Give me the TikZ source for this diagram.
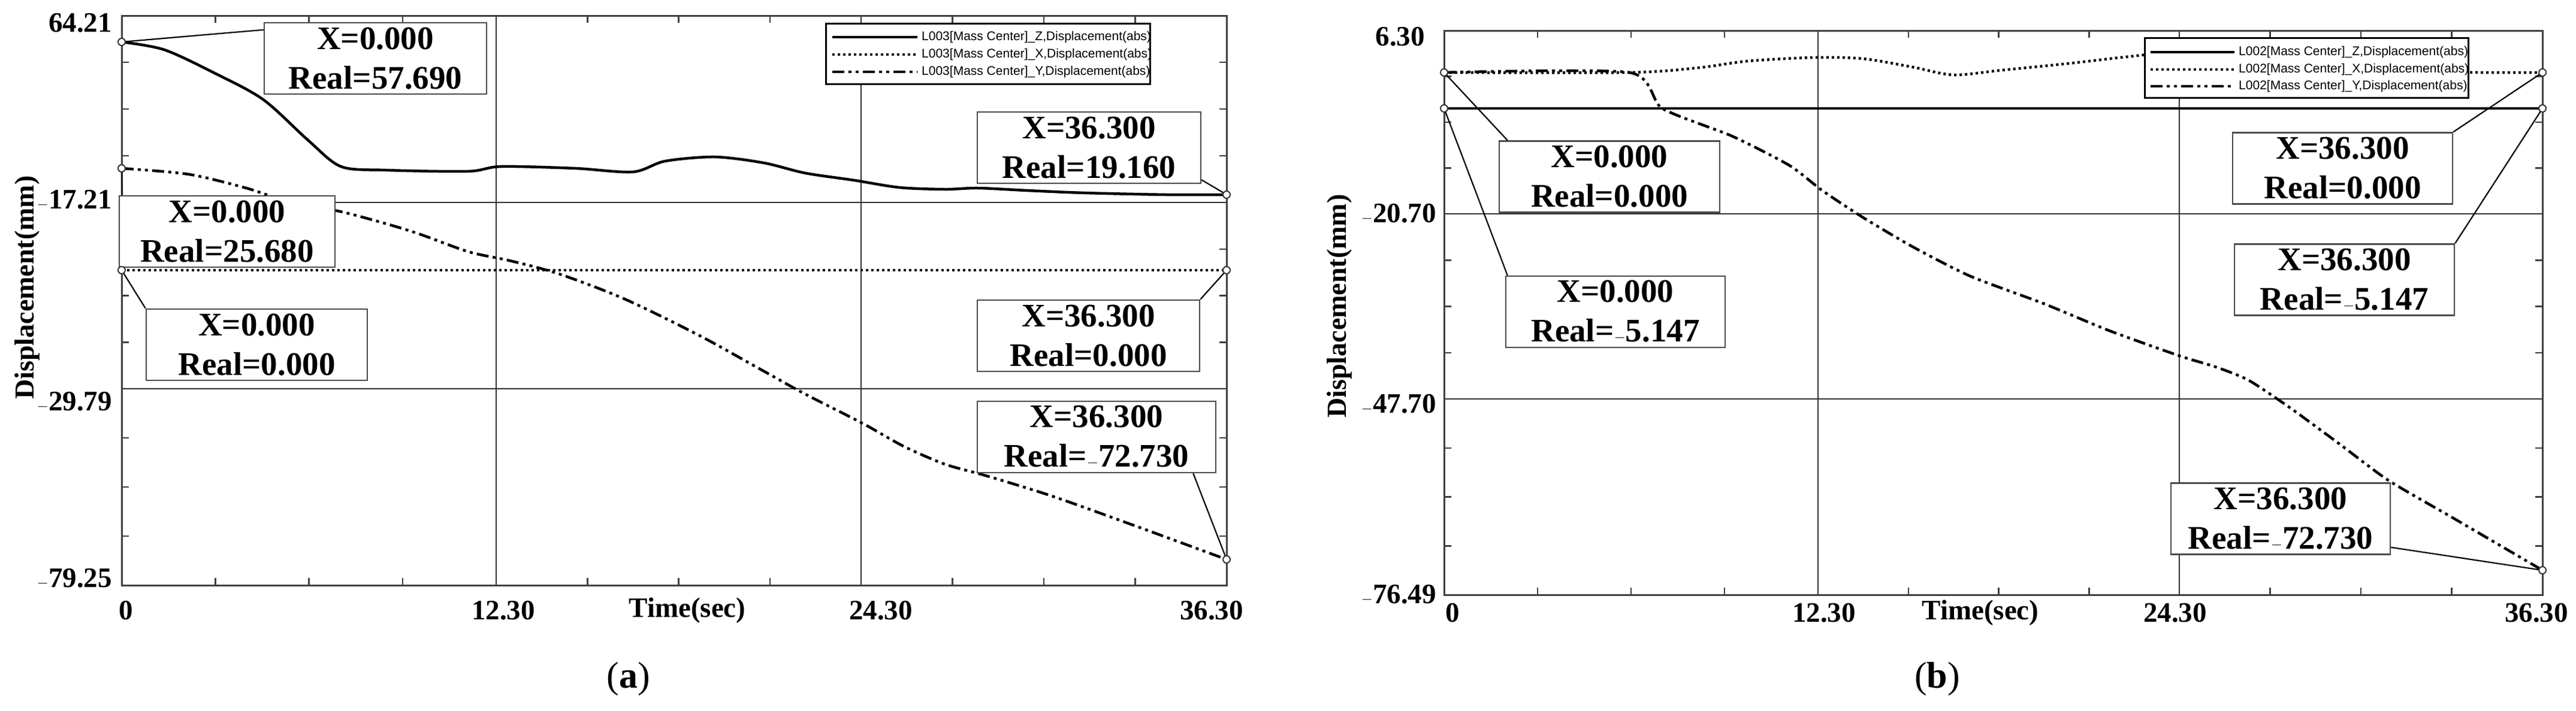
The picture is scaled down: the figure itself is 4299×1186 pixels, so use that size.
\documentclass[tikz,border=0pt]{standalone}
\usepackage{fontspec}
\setmainfont{Liberation Serif}
\newfontfamily\legfont{Liberation Sans}
\begin{document}
\begin{tikzpicture}[x=1pt,y=-1pt,
  frame/.style={draw=black!75,line width=3pt},
  grid/.style={draw=black!80,line width=2pt},
  tick/.style={draw=black!75,line width=2.5pt},
  zline/.style={line width=4.5pt},
  xline/.style={line width=4.5pt,dash pattern=on 4pt off 5pt},
  yline/.style={line width=4.5pt,dash pattern=on 20pt off 7pt on 5pt off 7pt on 5pt off 7pt},
  mk/.style={draw=black!80,line width=2pt,fill=white},
  lead/.style={draw=black,line width=2.2pt},
  ann/.style={draw=black!70,line width=2.5pt,fill=white,align=center,inner sep=0pt,
    minimum height=119pt,font=\fontsize{55}{66}\selectfont\bfseries},
  axl/.style={font=\fontsize{47}{50}\selectfont\bfseries,inner sep=0pt},
  leg/.style={draw=black,line width=3pt,fill=white},
  legt/.style={font=\legfont\fontsize{21}{24}\selectfont,anchor=west,inner sep=0pt}
]
\useasboundingbox (0,0) rectangle (4299,1186);
% ================= Panel (a)
\foreach \a/\b in {203/828,828/1437,1437/2047}{
  \foreach \k in {1,2,3}{
    \draw[tick] ({\a+(\b-\a)*\k/4},26) -- ++(0,12);
    \draw[tick] ({\a+(\b-\a)*\k/4},977) -- ++(0,-12);}}
\foreach \a/\b in {26/338,338/649,649/977}{
  \foreach \k in {1,2,3}{
    \draw[tick] (203,{\a+(\b-\a)*\k/4}) -- ++(12,0);
    \draw[tick] (2047,{\a+(\b-\a)*\k/4}) -- ++(-12,0);}}
\draw[grid] (828,26) -- (828,977) (1437,26) -- (1437,977)
            (203,338) -- (2047,338) (203,649) -- (2047,649);
\draw[frame] (203,26) rectangle (2047,977);
% curves
\draw[zline] plot[smooth,tension=0.5] coordinates {(203,70) (274,83) (356,121) (439,166) (514,234) (569,278) (644,284) (781,286) (836,278) (960,281) (1056,287) (1110,269) (1193,262) (1275,272) (1344,289) (1426,301) (1501,313) (1577,316) (1632,314) (1714,318) (1810,322) (1947,325) (2047,325)};
\draw[xline] (203,451) -- (2047,451);
\draw[yline] plot[smooth,tension=0.5] coordinates {(203,281) (315,291) (411,314) (480,336) (576,355) (686,386) (781,420) (850,435) (932,457) (1042,499) (1165,559) (1261,612) (1344,658) (1440,707) (1508,745) (1577,775) (1645,794) (1755,828) (1892,877) (2047,934)};
\coordinate (aZ0) at (203,70); \coordinate (aY0) at (203,281); \coordinate (aX0) at (203,451);
\coordinate (aZ1) at (2047,325); \coordinate (aX1) at (2047,451); \coordinate (aY1) at (2047,934);
% legend
\draw[leg] (1378,39) rectangle (1919,140);
\draw[zline] (1389,62) -- (1531,62);
\draw[xline] (1389,91) -- (1531,91);
\draw[yline] (1389,120) -- (1531,120);
\node[legt] (la1) at (1538,62) {L003[Mass Center]\_Z,Displacement(abs)};
\node[legt] (la2) at (1538,91) {L003[Mass Center]\_X,Displacement(abs)};
\node[legt] (la3) at (1538,120) {L003[Mass Center]\_Y,Displacement(abs)};
% annotations
\node[ann,minimum width=371pt] (a1) at (626.5,97.5) {X=0.000\\Real=57.690};
\node[ann,minimum width=360pt] (a2) at (379,386.5) {X=0.000\\Real=25.680};
\node[ann,minimum width=369pt] (a3) at (428.5,575.5) {X=0.000\\Real=0.000};
\node[ann,minimum width=373pt] (a4) at (1817.5,246.5) {X=36.300\\Real=19.160};
\node[ann,minimum width=371pt] (a5) at (1816.5,560.5) {X=36.300\\Real=0.000};
\node[ann,minimum width=398pt] (a6) at (1830,729.5) {X=36.300\\Real=$-$72.730};
\draw[lead] (aZ0) -- ([yshift=-13pt]a1.north west);
\draw[lead] (aY0) -- ([xshift=6pt]a2.north west);
\draw[lead] (aX0) -- (a3.north west);
\draw[lead] (aZ1) -- ([yshift=7pt]a4.south east);
\draw[lead] (aX1) -- (a5.north east);
\draw[lead] (aY1) -- ([xshift=-39pt]a6.south east);
\foreach \p in {aZ0,aY0,aX0,aZ1,aX1,aY1} \draw[mk] (\p) circle (6pt);
% axis labels
\node[axl,anchor=east] (ya1) at (187,38) {64.21};
\node[axl,anchor=east] (ya2) at (187,334) {$-$17.21};
\node[axl,anchor=east] (ya3) at (187,671) {$-$29.79};
\node[axl,anchor=east] (ya4) at (187,966) {$-$79.25};
\node[axl] (xa1) at (210,1019) {0};
\node[axl] (xa2) at (840,1019) {12.30};
\node[axl] (xa3) at (1147,1019) {Time(sec)};
\node[axl] (xa4) at (1470,1019) {24.30};
\node[axl] (xa5) at (2022,1019) {36.30};
\node[axl,rotate=90,font=\fontsize{46}{50}\selectfont\bfseries] (yla) at (45,480) {Displacement(mm)};
\node[font=\fontsize{62}{66}\selectfont,inner sep=0pt] (capa) at (1049,1134) {(\textbf{a})};
% ================= Panel (b)
\foreach \a/\b in {2410/3034,3034/3637,3637/4243}{
  \foreach \k in {1,2,3}{
    \draw[tick] ({\a+(\b-\a)*\k/4},51) -- ++(0,12);
    \draw[tick] ({\a+(\b-\a)*\k/4},993) -- ++(0,-12);}}
\foreach \a/\b in {51/357,357/666,666/993}{
  \foreach \k in {1,2,3}{
    \draw[tick] (2410,{\a+(\b-\a)*\k/4}) -- ++(12,0);
    \draw[tick] (4243,{\a+(\b-\a)*\k/4}) -- ++(-12,0);}}
\draw[grid] (3034,51) -- (3034,993) (3637,51) -- (3637,993)
            (2410,357) -- (4243,357) (2410,666) -- (4243,666);
\draw[frame] (2410,51) rectangle (4243,993);
\draw[zline] (2410,181) -- (4243,181);
\draw[xline] plot[smooth,tension=0.5] coordinates {(2410,121) (2719,121) (2835,113) (2917,102) (3027,96) (3109,98) (3192,112) (3260,125) (3342,117) (3452,106) (3548,95) (3603,91) (3726,98) (3863,113) (4000,120) (4137,121) (4243,121)};
\draw[yline] plot[smooth,tension=0.4] coordinates {(2410,121) (2719,121) (2774,181) (2890,227) (2986,276) (3041,318) (3109,363) (3192,412) (3288,461) (3411,507) (3520,552) (3637,594) (3699,613) (3753,635) (3822,681) (3904,741) (3986,802) (4096,866) (4243,952)};
\coordinate (bX0) at (2410,121); \coordinate (bZ0) at (2410,181);
\coordinate (bX1) at (4243,121); \coordinate (bZ1) at (4243,181); \coordinate (bY1) at (4243,952);
% legend
\draw[leg] (3579,63) rectangle (4119,163);
\draw[zline] (3589,87) -- (3729,87);
\draw[xline] (3589,116) -- (3729,116);
\draw[yline] (3589,144) -- (3729,144);
\node[legt] (lb1) at (3736,87) {L002[Mass Center]\_Z,Displacement(abs)};
\node[legt] (lb2) at (3736,116) {L002[Mass Center]\_X,Displacement(abs)};
\node[legt] (lb3) at (3736,144) {L002[Mass Center]\_Y,Displacement(abs)};
% annotations
\node[ann,minimum width=368pt] (b1) at (2686,295) {X=0.000\\Real=0.000};
\node[ann,minimum width=366pt] (b2) at (2696,520.5) {X=0.000\\Real=$-$5.147};
\node[ann,minimum width=367pt] (b3) at (3909.5,281) {X=36.300\\Real=0.000};
\node[ann,minimum width=367pt] (b4) at (3912.5,467) {X=36.300\\Real=$-$5.147};
\node[ann,minimum width=366pt] (b5) at (3806,866) {X=36.300\\Real=$-$72.730};
\draw[lead] (bX0) -- ([xshift=15pt]b1.north west);
\draw[lead] (bZ0) -- ([xshift=4pt]b2.north west);
\draw[lead] (bX1) -- (b3.north east);
\draw[lead] (bZ1) -- (b4.north east);
\draw[lead] (bY1) -- ([yshift=13pt]b5.south east);
\foreach \p in {bX0,bZ0,bX1,bZ1,bY1} \draw[mk] (\p) circle (6pt);
\node[axl,anchor=east] (yb1) at (2378,61) {6.30};
\node[axl,anchor=east] (yb2) at (2397,357) {$-$20.70};
\node[axl,anchor=east] (yb3) at (2397,675) {$-$47.70};
\node[axl,anchor=east] (yb4) at (2397,993) {$-$76.49};
\node[axl] (xb1) at (2424,1023) {0};
\node[axl] (xb2) at (3044,1023) {12.30};
\node[axl] (xb3) at (3305,1023) {Time(sec)};
\node[axl] (xb4) at (3630,1023) {24.30};
\node[axl] (xb5) at (4233,1023) {36.30};
\node[axl,rotate=90,font=\fontsize{46}{50}\selectfont\bfseries] (ylb) at (2235,511) {Displacement(mm)};
\node[font=\fontsize{62}{66}\selectfont,inner sep=0pt] (capb) at (3233,1134) {(\textbf{b})};
\end{tikzpicture}
\end{document}
